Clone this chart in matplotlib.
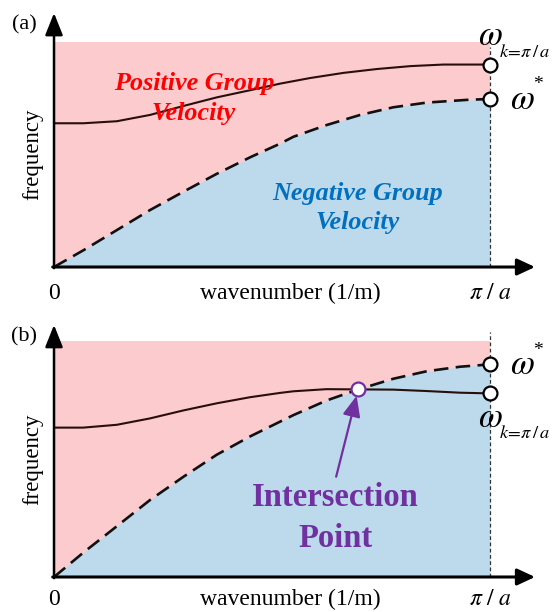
import matplotlib
matplotlib.use("Agg")
import matplotlib.pyplot as plt

plt.rcParams['font.family'] = ['Liberation Serif', 'DejaVu Serif']
plt.rcParams['mathtext.fontset'] = 'stix'

# k normalised so that pi/a = 1, frequency normalised to the shaded box height
k_a = [0.0, 0.067, 0.144, 0.220, 0.297, 0.373, 0.450, 0.518, 0.587, 0.664, 0.740, 0.817, 0.893, 1.0]
solid_a = [0.639, 0.639, 0.648, 0.676, 0.716, 0.754, 0.786, 0.815, 0.840, 0.863, 0.880, 0.893, 0.900, 0.900]
kd_a = [0.0, 0.067, 0.144, 0.220, 0.297, 0.373, 0.450, 0.518, 0.549, 0.625, 0.702, 0.778, 0.855, 0.947, 1.0]
dash_a = [0.0, 0.074, 0.164, 0.253, 0.335, 0.414, 0.488, 0.548, 0.579, 0.631, 0.676, 0.710, 0.731, 0.743, 0.747]

k_b = [0.0, 0.067, 0.144, 0.220, 0.297, 0.373, 0.450, 0.518, 0.549, 0.625, 0.698, 0.778, 0.855, 0.931, 1.0]
solid_b = [0.633, 0.633, 0.645, 0.672, 0.706, 0.736, 0.762, 0.780, 0.787, 0.796, 0.795, 0.794, 0.788, 0.781, 0.778]
dash_b = [0.0, 0.103, 0.215, 0.326, 0.425, 0.518, 0.596, 0.658, 0.686, 0.748, 0.795, 0.840, 0.872, 0.891, 0.901]
cross_b = (0.698, 0.795)

pink = '#FCCBCE'
blue = '#BDDAEC'
line_col = '#2A0E0E'
purple = '#7030A0'


def panel(ax, k, solid, kd, dash, ytop, vtop, tag, tag_y, lab_y):
    ax.set_xlim(0, 1.103)
    ax.set_ylim(0, ytop)
    ax.axis('off')
    ax.fill_between([0, 1], 0, 1, color=pink, lw=0, zorder=0)
    ax.fill_between(kd, 0, dash, color=blue, lw=0, zorder=1)
    ax.plot([1, 1], [0, vtop], ls=(0, (3, 2)), color='#333333', lw=0.9, zorder=2)
    ax.plot(k, solid, color=line_col, lw=1.5, zorder=3, solid_joinstyle='round')
    ax.plot(kd, dash, color='#111111', lw=1.9, dashes=(5.5, 2.8), zorder=3)
    # axes with arrows
    ax.annotate('', xy=(0, ytop), xytext=(0, -0.005),
                arrowprops=dict(arrowstyle='-|>,head_length=0.75,head_width=0.3', lw=1.8,
                                color='k', mutation_scale=18, shrinkA=0, shrinkB=0), zorder=5)
    ax.annotate('', xy=(1.103, 0), xytext=(-0.003, 0),
                arrowprops=dict(arrowstyle='-|>,head_length=0.6,head_width=0.28', lw=2.2,
                                color='k', mutation_scale=18, shrinkA=0, shrinkB=0), zorder=5)
    ax.text(-0.069, tag_y, tag, fontsize=16, ha='center', va='center')
    ax.text(0, lab_y, '0', fontsize=17, ha='center', va='center')
    ax.text(1, lab_y, r'$\pi\ /\ a$', fontsize=17, ha='center', va='center')
    ax.text(0.543, lab_y, 'wavenumber (1/m)', fontsize=17, ha='center', va='center')
    ax.text(-0.048, 0.5, 'frequency', fontsize=16.5, ha='center', va='center', rotation=90)
    ax.plot([1], [solid[-1]], 'o', ms=10, mfc='white', mec='k', mew=1.6, zorder=6, clip_on=False)
    ax.plot([1], [dash[-1]], 'o', ms=10, mfc='white', mec='k', mew=1.6, zorder=6, clip_on=False)


def omega_k(ax, y, ysub):
    ax.text(1.0, y, r'$\omega$', fontsize=25, ha='center', va='center', zorder=7)
    ax.text(1.021, ysub, r'$k\!=\!\pi\,/\,a$', fontsize=13.2, ha='left', va='center', zorder=7)


def omega_star(ax, y, ystar):
    ax.text(1.073, y, r'$\omega$', fontsize=25, ha='center', va='center')
    ax.text(1.110, ystar, '*', fontsize=14, ha='center', va='center')


fig = plt.figure(figsize=(5.54, 6.12), dpi=100)
ax1 = fig.add_axes([0.0975, 0.5637, 0.8682, 0.4150])
ax2 = fig.add_axes([0.0975, 0.0572, 0.8682, 0.4118])

panel(ax1, k_a, solid_a, kd_a, dash_a, 1.129, 0.978, '(a)', 1.076, -0.116)
for txt, yy in [('Positive Group', 0.816), ('Velocity', 0.683)]:
    ax1.text(0.321, yy, txt, fontsize=18.8, color='#FF0000', fontweight='bold',
             fontstyle='italic', ha='center', va='center', zorder=4)
for txt, yy in [('Negative Group', 0.327), ('Velocity', 0.197)]:
    ax1.text(0.696, yy, txt, fontsize=18.8, color='#0070C0', fontweight='bold',
             fontstyle='italic', ha='center', va='center', zorder=4)
omega_k(ax1, 1.025, 0.955)
omega_star(ax1, 0.742, 0.81)

panel(ax2, k_b, solid_b, k_b, dash_b, 1.068, 1.038, '(b)', 1.017, -0.097)
ax2.plot([cross_b[0]], [cross_b[1]], 'o', ms=10, mfc='white', mec=purple, mew=1.6, zorder=7)
ax2.annotate('', xy=(0.694, 0.768), xytext=(0.647, 0.425),
             arrowprops=dict(arrowstyle='-|>,head_length=0.7,head_width=0.3', lw=1.6,
                             color=purple, mutation_scale=18, shrinkA=0, shrinkB=0), zorder=7)
ax2.text(0.646, 0.335, 'Intersection', fontsize=23.5, color=purple, fontweight='bold',
         ha='center', va='center')
ax2.text(0.646, 0.165, 'Point', fontsize=23.5, color=purple, fontweight='bold',
         ha='center', va='center')
omega_star(ax2, 0.898, 0.96)
omega_k(ax2, 0.67, 0.61)

fig.savefig('out.png', dpi=100)
